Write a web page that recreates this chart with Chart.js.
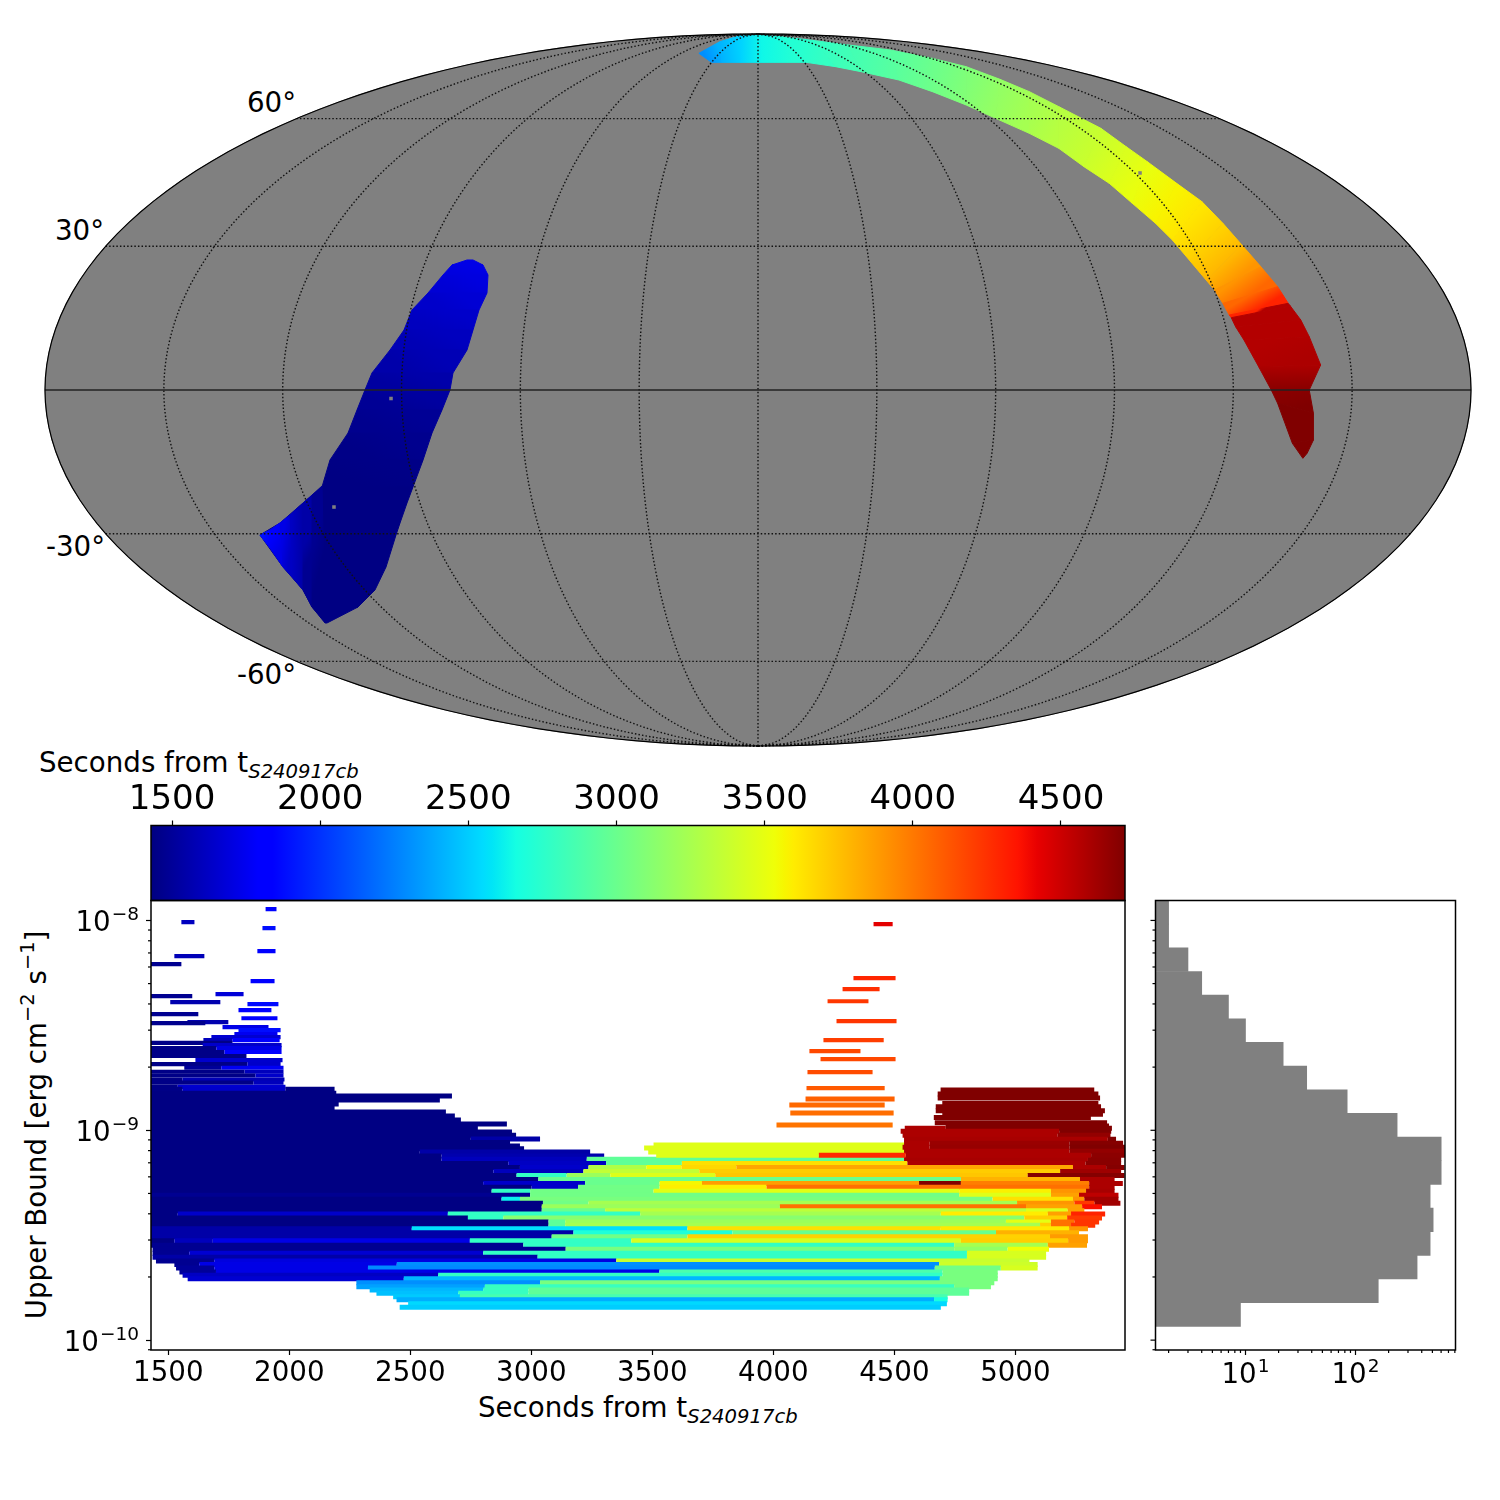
<!DOCTYPE html>
<html>
<head>
<meta charset="utf-8">
<script src="https://cdn.jsdelivr.net/npm/chart.js@4/dist/chart.umd.min.js"></script>
<style>
  body { margin: 0; background: #fff; width: 1500px; height: 1500px; position: relative; overflow: hidden; font-family: "DejaVu Sans", sans-serif; color: #000; }
  canvas { position: absolute; }
  .lbl { position: absolute; font-size: 27.7px; line-height: 1; white-space: nowrap; }
  .lbl i { font-size: 19.6px; position: relative; top: 6px; }
  .lbl sup { font-size: 19.4px; line-height: 0; position: relative; top: -2px; vertical-align: super; }
  #ylabel { left: 37px; top: 1125px; transform: translate(-50%, -50%) rotate(-90deg); }
</style>
</head>
<body>
<div class="lbl" style="left:247px;top:89px">60°</div>
<div class="lbl" style="left:55px;top:217px">30°</div>
<div class="lbl" style="left:46px;top:533px">-30°</div>
<div class="lbl" style="left:237px;top:661px">-60°</div>
<div class="lbl" style="left:283px;top:361px">300°</div>
<div class="lbl" style="left:521px;top:361px">240°</div>
<div class="lbl" style="left:759px;top:361px">180°</div>
<div class="lbl" style="left:996px;top:361px">120°</div>
<div class="lbl" style="left:1234px;top:361px">60°</div>
<div class="lbl" style="left:39px;top:749px">Seconds from t<i>S240917cb</i></div>
<div class="lbl" style="left:478px;top:1394px">Seconds from t<i>S240917cb</i></div>
<div class="lbl" id="ylabel">Upper Bound [erg cm<sup>−2</sup> s<sup>−1</sup>]</div>

<script>
// colour range of the time axis, seconds
const timeMin = 1429
const timeMax = 4716
const colorbarTicks = [1500, 2000, 2500, 3000, 3500, 4000, 4500]

// upper limit strips: log10(flux), time edges, colour time of each piece
const rowExp = [
  -7.946, -8.008, -8.037, -8.146, -8.170, -8.208, -8.289, -8.351, -8.361, -8.389,
  -8.399, -8.427, -8.446, -8.466, -8.485, -8.489, -8.508, -8.523, -8.542, -8.556,
  -8.570, -8.583, -8.594, -8.608, -8.627, -8.646, -8.666, -8.685, -8.702, -8.721,
  -8.739, -8.758, -8.773, -8.793, -8.805, -8.824, -8.837, -8.856, -8.875, -8.894,
  -8.913, -8.932, -8.951, -8.970, -8.989, -9.008, -9.024, -9.042, -9.058, -9.075,
  -9.088, -9.104, -9.123,
  -9.138, -9.158, -9.177, -9.196, -9.215, -9.234, -9.253, -9.272, -9.291, -9.310,
  -9.329, -9.348, -9.364, -9.383, -9.399, -9.418, -9.437, -9.453, -9.469, -9.488,
  -9.507, -9.526, -9.548, -9.567, -9.586, -9.605, -9.623, -9.640, -9.656, -9.675,
  -9.691, -9.707, -9.726, -9.745, -9.761, -9.777, -9.793, -9.808, -9.827, -9.843,
  -8.018, -8.275, -8.327, -8.385, -8.480, -8.570, -8.623, -8.661, -8.723, -8.799,
  -8.851, -8.880, -8.918, -8.975,
  -9.070, -9.085, -9.104, -9.119,
  -8.808, -8.827, -8.846, -8.872, -8.888, -8.907, -8.923, -8.939, -8.964, -8.980,
  -8.990, -9.005, -9.024, -9.043, -9.062, -9.081, -9.100, -9.119
]
const rowEdges = [
  [1902,1947], [1554,1608], [1889,1943], [1868,1943], [1525,1649], [1425,1554], [1840,1939], [1695,1811], [1425,1599], [1508,1715],
  [1827,1955], [1790,1926], [1425,1624], [1802,1951], [1579,1748], [1425,1653], [1724,1914], [1790,1964], [1773,1951], [1678,1964],
  [1645,1765,1960], [1425,1765], [1642,1968], [1425,1699,1968], [1425,1732,1968], [1425,1823], [1612,1972], [1425,1827,1964], [1566,1719,1976], [1425,1815,1976],
  [1425,1860,1976], [1425,1559,1980], [1425,1852,1976], [1425,1539,1984], [1425,1559,1984,2187], [1425,2194], [1425,2672], [1425,2622], [1425,2204], [1425,2187],
  [1425,2647], [1425,2684], [1425,2709], [1425,2899], [1425,2779], [1425,2920], [1425,2937], [1425,2750,3036], [1425,2912], [1425,2953],
  [1425,2970], [1425,2539,3243], [1425,2629,3301],
  [1425,2629,3229,4540,5300,5437],
  [1425,2905,3309,3622,4554,5290,5437],
  [1425,2953,3236,3475,3620,3847,5238,5375,5451],
  [1425,2843,3215,3694,5185,5437],
  [1425,2939,3146,3326,3760,5051,5451],
  [1425,3029,4775,5267,5410],
  [1425,2801,3222,3530,3705,4602,4775,5305,5444],
  [1425,3001,3193,3530,3972,5305,5410],
  [1425,2836,2995,3505,4768,5147,5292,5410],
  [1425,2995,4768,5147,5263,5426],
  [1425,2877,2953,4906,5238,5285,5426],
  [1425,3048,3236,5007,5244,5327,5434],
  [1425,3043,4027,5044,5276,5358],
  [1425,3043,3305,5044,5216,5285],
  [1425,1539,2655,3450,4692,5134,5230,5371],
  [1425,2738,2884,5037,5214,5358],
  [1425,3071,3140,4961,5147,5244,5346],
  [1425,3071,3140,5102,5147,5230,5330],
  [1425,2506,3645,4692,5222,5300],
  [1425,3174,3831,4920,5263],
  [1425,3084,3645,5143,5300],
  [1425,1525,1684,2746,3413,4775,5218,5300],
  [1425,2967,4747,5134,5296],
  [1435,3142,4747,4968,5139],
  [1435,1587,2801,4800,5127],
  [1435,3026,4800,5127],
  [1449,1690,3351,5058],
  [1525,1628,2444,4685,5092],
  [1532,1690,2325,4667,4940,5092],
  [1546,1697,3529,4699,4927],
  [1559,2615,4699,4927],
  [1580,2473,4688,4927],
  [2277,3036,4913],
  [2277,2808,4747,4899],
  [2332,2801,2988,4809],
  [2360,2698,2988,4809],
  [2429,2705,4720],
  [2443,4664,4720],
  [2491,4717],
  [2456,4692],
  [4414,4493], [4331,4505], [4286,4439], [4224,4393], [4261,4509], [4207,4456], [4149,4360], [4195,4505], [4141,4410], [4137,4460],
  [4133,4501], [4066,4460], [4070,4497], [4013,4493],
  [3505,4540], [3466,4540], [3483,4540], [3516,4188],
  [4691,5326], [4679,5343], [4679,5350], [4698,5343], [4671,5354], [4671,5370], [4698,5362], [4663,5312], [4667,5379], [4712,5387],
  [4543,4712,5399], [4526,5181,5396], [4534,5175,5393], [4540,5382,5416], [4540,4646,5223,5445], [4534,4646,5223,5458], [4540,5223,5454], [4188,4547,5313,5454]
]
const rowColor = [
  [1850], [1610], [1880], [1840], [1590], [1480], [1840], [1680], [1480], [1560],
  [1870], [1800], [1480], [1830], [1560], [1470], [1720], [1880], [1750], [1660],
  [1600,1800], [1450], [1640], [1450,1720], [1450,1800], [1450], [1650], [1450,1640], [1500,1760], [1450,1600],
  [1450,1640], [1450,1580], [1450,1600], [1450,1660], [1450,1640,1440], [1440], [1440], [1440], [1440], [1440],
  [1440], [1440], [1440], [1440], [1440], [1440], [1440], [1440,1540], [1440], [1440],
  [1440], [1440,1540], [1440,1560],
  [1440,1600,2960,4600,4690],
  [1440,1620,2960,3640,4590,4690],
  [1440,1640,3280,3540,3670,3840,4590,4700],
  [1440,1600,3350,3710,4630],
  [1440,2780,3200,3460,3730,4700],
  [1440,3000,3800,4590],
  [1440,1640,3000,3560,3870,4716,3980,4590],
  [1440,1640,3030,3590,4030,4590],
  [1440,2780,3030,3480,3580,3900,4600],
  [1480,3030,3470,3860,4540],
  [1440,2620,3060,3640,3900,4620],
  [1440,3030,3240,3900,4230,4620],
  [1440,3200,4030,3860,4370],
  [1440,3000,3330,3470,3860],
  [1440,1640,2780,3240,3600,3860,4300],
  [1440,2780,3120,3700,4220],
  [1440,2950,3200,3490,4030,4240],
  [1440,2950,3240,3700,4030,4240],
  [1540,2560,3640,3610,3900],
  [1540,2700,3000,3800],
  [1540,3030,3690,3880],
  [1440,1600,1720,2780,3440,3700,3880],
  [1480,2780,3240,3860],
  [1480,3060,3160,3530],
  [1480,1660,2780,3440],
  [1540,2780,3440],
  [1480,1700,3380],
  [1480,1720,2300,3400],
  [1500,1720,2280,3030,3440],
  [1500,1720,2880,3060],
  [1620,2780,3060],
  [1660,2430,3060],
  [2300,3060],
  [2360,2800,3060],
  [2430,2800,2960],
  [2460,2800,2960],
  [2490,2860],
  [2400,2680],
  [2540],
  [2500],
  [4430], [4290], [4260], [4230], [4240], [4207], [4170], [4170], [4160], [4110],
  [4085], [4055], [4040], [4016],
  [3470], [3470], [3470], [3470],
  [4716], [4716], [4716], [4716], [4716], [4716], [4716], [4716], [4716], [4716],
  [4590,4716], [4590,4716], [4590,4660], [4600,4716], [4590,4640,4700], [4590,4650,4716], [4590,4660], [4270,4590,4680]
]

// marginal histogram of the same upper limits
const histBins = ["b1","b2","b3","b4","b5","b6","b7","b8","b9","b10","b11","b12","b13","b14","b15","b16","b17","b18","b19"]
const histCounts = [2, 2, 3, 4, 7, 10, 22, 36, 84, 239, 601, 601, 477, 508, 477, 363, 161, 9, null]

// sky map, Mollweide coordinates scaled to +-1, one cross cut per entry
const arcOuterX = [-.0829,-.0533,-.0238,.0028,.0323,.0795,.1268,.1857,.2447,.2920,.3393,.3805,.4219,.4809,.5163,.5459,.5871,.6226,.6520,.6787,.7052,.7288,.7436,.7466,.7613,.7731,.7891,.7731,.7790,.7790,.7701]
const arcOuterY = [.9457,.9785,.9962,.9972,.9925,.9813,.9691,.9551,.9316,.9082,.8727,.8380,.7959,.7350,.6835,.6414,.5805,.5290,.4682,.4073,.3464,.2903,.2434,.2360,.1966,.1498,.0702,0,-.0655,-.1404,-.1779]
const arcInnerX = [-.0651,-.0504,-.0238,.0087,.0677,.1090,.1445,.1976,.2447,.2920,.3334,.3805,.4219,.4572,.4927,.5251,.5576,.5812,.6049,.6285,.6403,.6520,.6609,.6638,.6698,.6816,.7022,.7199,.7288,.7495,.7642]
const arcInnerY = [.9204,.9204,.9204,.9204,.9204,.9082,.8942,.8708,.8380,.8006,.7631,.7210,.6788,.6273,.5805,.5243,.4682,.4213,.3652,.3090,.2809,.2434,.2107,.2032,.1779,.1404,.0655,0,-.0374,-.1498,-.1919]
const arcTime = [2300,2420,2520,2640,2720,2790,2850,2930,3010,3090,3170,3240,3310,3380,3450,3510,3570,3620,3690,3780,3900,4060,4300,4570,4570,4570,4590,4690,4716,4716,4716]

const blobLeftX = [-.4081,-.4292,-.4418,-.4628,-.4853,-.4965,-.5161,-.5414,-.5512,-.5624,-.5750,-.6003,-.6115,-.6381,-.6704,-.6985,-.6662,-.6381,-.6255,-.6073]
const blobRightX = [-.3997,-.3857,-.3787,-.3801,-.3913,-.3997,-.4081,-.4278,-.4320,-.4432,-.4572,-.4698,-.4839,-.4923,-.5021,-.5077,-.5217,-.5372,-.5610,-.6045]
const blobY = [.3652,.3511,.3230,.2725,.2247,.1685,.1124,.0478,0,-.0562,-.1208,-.1966,-.2725,-.3174,-.3736,-.4073,-.4972,-.5618,-.6096,-.6545]
const blobTime = [1720,1720,1700,1670,1640,1610,1580,1550,1520,1490,1470,1450,1440,1440,1440,1440,1440,1440,1440,1440]

const tipTopX = [-.6985,-.6844,-.6704,-.6564,-.6381,-.6255,-.6115]
const tipTopY = [-.4073,-.3933,-.3736,-.3511,-.3174,-.2949,-.2697]
const tipBottomX = [-.6985,-.6844,-.6662,-.6522,-.6381,-.6255,-.6073]
const tipBottomY = [-.4073,-.4438,-.4972,-.5281,-.5618,-.6096,-.6517]
const tipTime = [1900,1820,1720,1620,1540,1480,1440]

const holeX = [-.5147,-.5947,.5358]
const holeY = [-.0239,-.3287,.6096]

const parallels = [-60, -30, 30, 60]
const meridians = [30, 60, 90, 120, 150, 180, 210, 240, 270, 300, 330]

// ticks
const xTicks = [1500, 2000, 2500, 3000, 3500, 4000, 4500, 5000]
const yTicks = [1e-8, 1e-9, 1e-10]
const yTickPowers = ["−8", "−9", "−10"]
const yMinor = [9e-9,8e-9,7e-9,6e-9,5e-9,4e-9,3e-9,2e-9,9e-10,8e-10,7e-10,6e-10,5e-10,4e-10,3e-10,2e-10,9e-11]
const histTicks = [10, 100]
const histTickPowers = ["1", "2"]
const histMinor = [2,3,4,5,6,7,8,9,20,30,40,50,60,70,80,90,200,300,400,500,600,700,800]

Chart.defaults.font.family = "'DejaVu Sans'"
Chart.defaults.color = "#000"
Chart.defaults.animation = false
Chart.defaults.plugins.legend.display = false
Chart.defaults.plugins.tooltip.enabled = false

const jetR = [[0,0],[.35,0],[.66,1],[.89,1],[1,.5]]
const jetG = [[0,0],[.125,0],[.375,1],[.64,1],[.91,0],[1,0]]
const jetB = [[0,.5],[.11,1],[.34,1],[.65,0],[1,0]]

function lerp(table, f) {
  for (let i = 1; i < table.length; i++) {
    if (f <= table[i][0]) {
      const a = table[i - 1], b = table[i]
      return a[1] + (b[1] - a[1]) * (f - a[0]) / (b[0] - a[0])
    }
  }
  return table[table.length - 1][1]
}

function jetFrac(f) {
  f = Math.min(1, Math.max(0, f))
  const c = [jetR, jetG, jetB].map(t => Math.round(lerp(t, f) * 255))
  return `rgb(${c[0]},${c[1]},${c[2]})`
}

const jet = t => jetFrac((t - timeMin) / (timeMax - timeMin))

function addCanvas(left, top, w, h) {
  const c = document.createElement("canvas")
  c.width = w
  c.height = h
  c.style.left = left + "px"
  c.style.top = top + "px"
  document.body.appendChild(c)
  return c
}

// axes keep the size given in afterFit, no room for label overhang
function fixSize(s, w, h) {
  if (w !== null) s.width = w
  if (h !== null) s.height = h
  s.paddingTop = s.paddingBottom = s.paddingLeft = s.paddingRight = 0
}

// fills closed shapes from the points the library placed
const polygonPlugin = {
  id: "polygon",
  beforeDatasetDraw(chart, args) {
    const ds = chart.data.datasets[args.index]
    if (!ds.polyFill && !ds.polyTimes) return
    const pts = args.meta.data
    const ctx = chart.ctx
    let paint = ds.polyFill
    if (ds.polyTimes) {
      const g = ctx.createLinearGradient(
        (pts[0].x + pts[3].x) / 2, (pts[0].y + pts[3].y) / 2,
        (pts[1].x + pts[2].x) / 2, (pts[1].y + pts[2].y) / 2)
      g.addColorStop(0, jet(ds.polyTimes[0]))
      g.addColorStop(1, jet(ds.polyTimes[1]))
      paint = g
    }
    ctx.save()
    ctx.beginPath()
    pts.forEach((p, i) => i ? ctx.lineTo(p.x, p.y) : ctx.moveTo(p.x, p.y))
    ctx.closePath()
    ctx.fillStyle = paint
    ctx.fill()
    ctx.strokeStyle = paint
    ctx.lineWidth = 1
    ctx.stroke()
    ctx.restore()
    return false
  }
}

const framePlugin = {
  id: "frame",
  afterDraw(chart) {
    const a = chart.chartArea
    chart.ctx.save()
    chart.ctx.strokeStyle = "#000"
    chart.ctx.lineWidth = 1.5
    chart.ctx.strokeRect(a.left, a.top, a.right - a.left, a.bottom - a.top)
    chart.ctx.restore()
  }
}

// short ticks Chart.js can't size one by one
function tickMarks(specs) {
  return {
    id: "tickMarks",
    afterDraw(chart) {
      const a = chart.chartArea
      const ctx = chart.ctx
      ctx.save()
      ctx.strokeStyle = "#000"
      ctx.lineWidth = 1.2
      specs.forEach(s => {
        const scale = chart.scales[s.scale]
        s.values.forEach(v => {
          const p = scale.getPixelForValue(v)
          ctx.beginPath()
          if (scale.isHorizontal()) {
            ctx.moveTo(p, a.bottom)
            ctx.lineTo(p, a.bottom + s.len)
          } else {
            ctx.moveTo(a.left, p)
            ctx.lineTo(a.left - s.len, p)
          }
          ctx.stroke()
        })
      })
      ctx.restore()
    }
  }
}

// tick labels like 10 with a raised power
function powerLabels(scaleId, values, powers) {
  return {
    id: "powerLabels",
    afterDraw(chart) {
      const a = chart.chartArea
      const ctx = chart.ctx
      const scale = chart.scales[scaleId]
      ctx.save()
      ctx.fillStyle = "#000"
      ctx.textAlign = "left"
      ctx.textBaseline = "alphabetic"
      values.forEach((v, i) => {
        const p = scale.getPixelForValue(v)
        ctx.font = "18.5px 'DejaVu Sans'"
        const pw = ctx.measureText(powers[i]).width
        ctx.font = "27.7px 'DejaVu Sans'"
        const bw = ctx.measureText("10").width
        let x, base, raised
        if (scale.isHorizontal()) {
          x = p - (bw + 1 + pw) / 2
          base = a.bottom + 33
          raised = a.bottom + 22
        } else {
          x = a.left - 12 - pw - 1 - bw
          base = p + 10.4
          raised = p - 0.3
        }
        ctx.fillText("10", x, base)
        ctx.font = "18.5px 'DejaVu Sans'"
        ctx.fillText(powers[i], x + bw + 1, raised)
      })
      ctx.restore()
    }
  }
}

// --- sky map ---
function mollweide(lon, lat) {
  const target = Math.PI * Math.sin(lat * Math.PI / 180)
  let lo = -Math.PI / 2, hi = Math.PI / 2
  for (let i = 0; i < 50; i++) {
    const th = (lo + hi) / 2
    if (2 * th + Math.sin(2 * th) < target) lo = th
    else hi = th
  }
  const th = (lo + hi) / 2
  return { x: -(lon - 180) / 180 * Math.cos(th), y: Math.sin(th) }
}

function slices(ax, ay, bx, by, times) {
  return times.slice(1).map((t, i) => ({
    polyTimes: [times[i], t],
    data: [
      { x: ax[i], y: ay[i] }, { x: ax[i + 1], y: ay[i + 1] },
      { x: bx[i + 1], y: by[i + 1] }, { x: bx[i], y: by[i] }
    ]
  }))
}

const degs = []
for (let d = 0; d <= 360; d += 2) degs.push(d)
const outline = degs.map(d => ({ x: Math.cos(d * Math.PI / 180), y: Math.sin(d * Math.PI / 180) }))

const lats = []
for (let d = -90; d <= 90; d += 2) lats.push(d)
const lons = []
for (let d = 0; d <= 360; d += 5) lons.push(d)

const dotted = { showLine: true, borderColor: "#111", borderWidth: 1.4, borderDash: [1.5, 2.1], pointRadius: 0, tension: 0 }
const mapDatasets = [
  { data: outline, showLine: true, borderColor: "#000", borderWidth: 1.2, pointRadius: 0 },
  { data: lons.map(l => mollweide(l, 0)), showLine: true, borderColor: "#222", borderWidth: 1.6, pointRadius: 0 },
  ...parallels.map(p => ({ ...dotted, data: lons.map(l => mollweide(l, p)) })),
  ...meridians.map(m => ({ ...dotted, data: lats.map(l => mollweide(m, l)) })),
  { data: holeX.map((x, i) => ({ x, y: holeY[i] })), pointStyle: "rect", pointRadius: 2.5, backgroundColor: "#808080", borderWidth: 0 },
  ...slices(tipTopX, tipTopY, tipBottomX, tipBottomY, tipTime).reverse(),
  ...slices(blobLeftX, blobY, blobRightX, blobY, blobTime).reverse(),
  ...slices(arcOuterX, arcOuterY, arcInnerX, arcInnerY, arcTime).reverse(),
  { data: outline, polyFill: "#808080" }
]

new Chart(addCanvas(40, 29, 1436, 722), {
  type: "scatter",
  data: { datasets: mapDatasets },
  options: {
    responsive: false,
    layout: { padding: 0, autoPadding: false },
    scales: {
      x: { type: "linear", display: false, min: -1.00701, max: 1.00701 },
      y: { type: "linear", display: false, min: -1.01404, max: 1.01404 }
    }
  },
  plugins: [polygonPlugin]
})

// --- colour bar ---
const jetStops = [0, .11, .125, .34, .35, .375, .64, .65, .66, .89, .91, 1]

new Chart(addCanvas(100, 770, 1080, 135), {
  type: "bar",
  data: {
    labels: [""],
    datasets: [{
      data: [[timeMin, timeMax]],
      barPercentage: 1,
      categoryPercentage: 1,
      backgroundColor: ctx => {
        const a = ctx.chart.chartArea
        if (!a) return "#000080"
        const g = ctx.chart.ctx.createLinearGradient(a.left, 0, a.right, 0)
        jetStops.forEach(s => g.addColorStop(s, jetFrac(s)))
        return g
      }
    }]
  },
  options: {
    indexAxis: "y",
    responsive: false,
    layout: { padding: { left: 51, right: 55, top: 0, bottom: 4.5 }, autoPadding: false },
    scales: {
      y: { display: false },
      x: {
        type: "linear",
        position: "top",
        min: timeMin,
        max: timeMax,
        afterFit: s => fixSize(s, null, 55.5),
        afterBuildTicks: s => { s.ticks = colorbarTicks.map(value => ({ value })) },
        border: { display: false },
        grid: { drawOnChartArea: false, tickLength: 5, tickColor: "#000", tickWidth: 1.2 },
        ticks: { font: { size: 34 }, padding: 0, maxRotation: 0, autoSkip: false, callback: v => String(v) }
      }
    }
  },
  plugins: [framePlugin]
})

// --- upper limits vs time ---
const barDatasets = []
rowExp.forEach((e, i) => {
  rowColor[i].forEach((c, j) => {
    barDatasets.push({
      data: [{ x: rowEdges[i][j], y: 10 ** e }, { x: rowEdges[i][j + 1], y: 10 ** e }],
      showLine: true,
      borderColor: jet(c),
      borderWidth: e < -8.8 ? 5 : 4.2,
      borderCapStyle: "butt",
      pointRadius: 0
    })
  })
})
barDatasets.reverse()

new Chart(addCanvas(0, 890, 1140, 530), {
  type: "scatter",
  data: { datasets: barDatasets },
  options: {
    responsive: false,
    layout: { padding: { left: 0, right: 15, top: 10.5, bottom: 0 }, autoPadding: false },
    scales: {
      x: {
        type: "linear",
        min: 1428.5,
        max: 5453,
        afterFit: s => fixSize(s, null, 70),
        afterBuildTicks: s => { s.ticks = xTicks.map(value => ({ value })) },
        border: { display: false },
        grid: { drawOnChartArea: false, tickLength: 5, tickColor: "#000", tickWidth: 1.2 },
        ticks: { font: { size: 27.7 }, padding: 2, maxRotation: 0, autoSkip: false, callback: v => String(v) }
      },
      y: {
        type: "logarithmic",
        min: 10 ** -10.047,
        max: 10 ** -7.905,
        afterFit: s => fixSize(s, 151, null),
        afterBuildTicks: s => { s.ticks = yTicks.map(value => ({ value })) },
        border: { display: false },
        grid: { drawOnChartArea: false, tickLength: 5, tickColor: "#000", tickWidth: 1.2 },
        ticks: { display: false }
      }
    }
  },
  plugins: [framePlugin, tickMarks([{ scale: "y", values: yMinor, len: 3 }]), powerLabels("y", yTicks, yTickPowers)]
})

// --- histogram ---
new Chart(addCanvas(1140, 890, 330, 530), {
  type: "bar",
  data: {
    labels: histBins,
    datasets: [{ data: histCounts, backgroundColor: "#808080", barPercentage: 1, categoryPercentage: 1, borderWidth: 0 }]
  },
  options: {
    indexAxis: "y",
    responsive: false,
    layout: { padding: { left: 15.5, right: 14.5, top: 10.5, bottom: 0 }, autoPadding: false },
    scales: {
      y: { display: false },
      yLog: { axis: "y", type: "logarithmic", display: false, min: 10 ** -10.047, max: 10 ** -7.905 },
      x: {
        type: "logarithmic",
        min: 1.52,
        max: 811,
        afterFit: s => fixSize(s, null, 70),
        afterBuildTicks: s => { s.ticks = histTicks.map(value => ({ value })) },
        border: { display: false },
        grid: { drawOnChartArea: false, tickLength: 5, tickColor: "#000", tickWidth: 1.2 },
        ticks: { display: false }
      }
    }
  },
  plugins: [framePlugin, tickMarks([
    { scale: "yLog", values: yTicks, len: 5 },
    { scale: "yLog", values: yMinor, len: 3 },
    { scale: "x", values: histMinor, len: 3 }
  ]), powerLabels("x", histTicks, histTickPowers)]
})
</script>
</body>
</html>
